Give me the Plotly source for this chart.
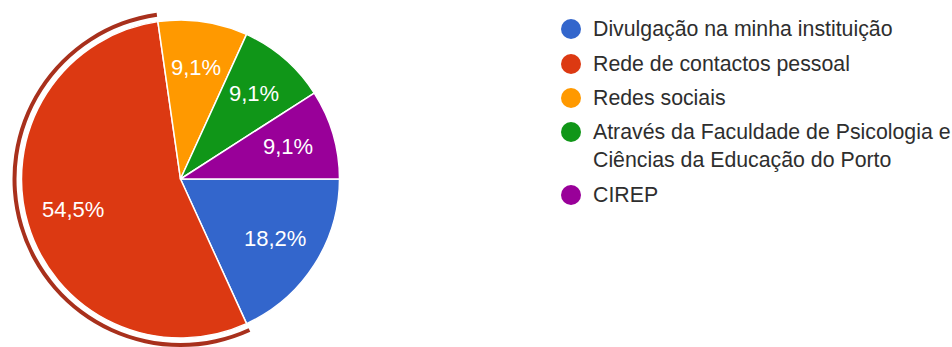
import math
import plotly.graph_objects as go

# Survey answers: how respondents heard about the study
categories = [
    "Divulgação na minha instituição",
    "Rede de contactos pessoal",
    "Redes sociais",
    "Através da Faculdade de Psicologia e<br>Ciências da Educação do Porto",
    "CIREP",
]
counts = [2, 6, 1, 1, 1]
colors = ["#3366cc", "#dc3912", "#ff9900", "#109618", "#990099"]
highlighted = "Rede de contactos pessoal"

W, H = 952, 347
cx, cy = 180.5, 179          # pie centre in pixels (from top-left)
r = 159                      # pie radius in pixels
ring_r = 168                 # outer radius of the highlight ring
label_frac = 0.705           # radial position of the percentage labels
FONT = "Arial, Liberation Sans"

fig = go.Figure()

fig.add_trace(go.Pie(
    labels=categories,
    values=counts,
    sort=False,
    direction="clockwise",
    rotation=90,
    marker=dict(colors=colors, line=dict(color="white", width=1.5)),
    textinfo="none",
    domain=dict(x=[(cx - r) / W, (cx + r) / W],
                y=[(H - cy - r) / H, (H - cy + r) / H]),
    showlegend=False,
    hoverinfo="skip",
))

# thin ring around the highlighted slice
ring_colors = [("#a8301c" if c == highlighted else "rgba(0,0,0,0)") for c in categories]
fig.add_trace(go.Pie(
    labels=categories,
    values=counts,
    sort=False,
    direction="clockwise",
    rotation=90,
    hole=(ring_r - 4) / ring_r,
    marker=dict(colors=ring_colors, line=dict(width=0)),
    textinfo="none",
    domain=dict(x=[(cx - ring_r) / W, (cx + ring_r) / W],
                y=[0, 2 * ring_r / H]),
    showlegend=False,
    hoverinfo="skip",
))

# percentage labels placed along each slice's mid-angle
total = sum(counts)
cum = 0
for v in counts:
    theta = 2 * math.pi * (cum + v / 2) / total   # clockwise from 3 o'clock
    cum += v
    px = cx + label_frac * r * math.cos(theta)
    py = cy + label_frac * r * math.sin(theta)
    pct = f"{100 * v / total:.1f}".replace(".", ",") + "%"
    fig.add_annotation(xref="paper", yref="paper", x=px / W, y=1 - py / H,
                       xanchor="center", yanchor="middle", yshift=1,
                       text=pct, showarrow=False,
                       font=dict(family=FONT, size=22, color="white"))

# legend: coloured dots with labels
row_y = [29, 64, 98, 132, 195]
dot_x, text_x = 571, 591
for cat, col, y in zip(categories, colors, row_y):
    fig.add_shape(type="circle", xref="paper", yref="paper",
                  x0=(dot_x - 10) / W, x1=(dot_x + 10) / W,
                  y0=1 - (y + 10) / H, y1=1 - (y - 10) / H,
                  fillcolor=col, line=dict(width=0))
    fig.add_annotation(xref="paper", yref="paper",
                       x=text_x / W, y=1 - (y - 14) / H,
                       xanchor="left", yanchor="top", align="left",
                       text=cat, showarrow=False,
                       font=dict(family=FONT, size=21.3, color="#2e2e2e"))

fig.update_layout(
    width=W, height=H,
    margin=dict(l=0, r=0, t=0, b=0),
    paper_bgcolor="white",
    plot_bgcolor="white",
)

fig.write_html("out.html")
